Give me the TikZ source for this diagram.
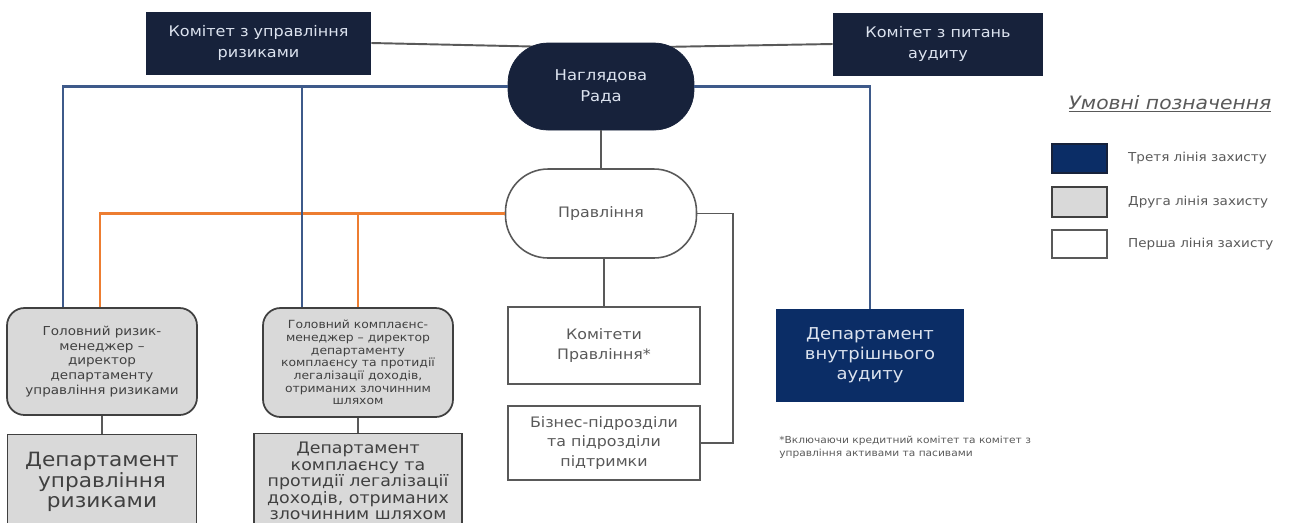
\documentclass[tikz,border=0pt]{standalone}
\usepackage{fontspec}
\setmainfont{DejaVu Sans}[FakeStretch=1.1]
\usetikzlibrary{positioning}
\definecolor{mnavy}{HTML}{17223B}
\definecolor{maudit}{HTML}{0B2D66}
\definecolor{mtxt}{HTML}{DCE3EF}
\definecolor{mblue}{HTML}{3E5A8A}
\definecolor{morange}{HTML}{ED7D31}
\definecolor{mgray}{HTML}{D9D9D9}
\definecolor{mdark}{HTML}{404040}
\definecolor{mline}{HTML}{595959}
\tikzstyle{council} = [rectangle, minimum height=1.26cm, text=mtxt, fill=mnavy, align=center, font=\fontsize{8.3}{11.5}\selectfont]
\tikzstyle{board} = [rectangle, rounded corners=0.8cm, minimum width=3.72cm, minimum height=1.74cm, text=mtxt, fill=mnavy, draw=mnavy, align=center, font=\fontsize{8.5}{12.2}\selectfont]
\tikzstyle{mgmt} = [rectangle, rounded corners=0.85cm, minimum width=3.82cm, minimum height=1.78cm, fill=white, draw=mline, line width=0.9pt, text=mline, font=\fontsize{8.2}{11}\selectfont]
\tikzstyle{first} = [rectangle, minimum width=3.84cm, fill=white, draw=mline, line width=1pt, text=mline, align=center, font=\fontsize{8.2}{11}\selectfont]
\tikzstyle{second} = [rectangle, rounded corners=0.35cm, minimum width=3.8cm, fill=mgray, draw=mdark, line width=1pt, text=mdark, align=center, inner sep=1pt]
\tikzstyle{secdept} = [rectangle, minimum height=1.9cm, fill=mgray, draw=mdark, line width=1pt, text=mdark, align=center]
\tikzstyle{third} = [rectangle, minimum width=3.76cm, minimum height=1.86cm, fill=maudit, text=mtxt, align=center, font=\fontsize{9.3}{11.3}\selectfont]
\tikzstyle{legbox} = [rectangle, minimum width=1.1cm, minimum height=0.58cm, draw=mdark, line width=1pt]
\tikzstyle{legtext} = [right=0.4cm, text=mline, font=\fontsize{7}{8}\selectfont, inner sep=0pt]
\tikzstyle{rline} = [line width=1.4pt, draw=mblue]
\tikzstyle{oline} = [line width=1.4pt, draw=morange]
\tikzstyle{gline} = [line width=1.1pt, draw=mline]

\begin{document}
\begin{tikzpicture}[x=0.02cm, y=-0.02cm]
  \useasboundingbox (0,0) rectangle (1295,522);
  \node (rkom) [council, minimum width=4.5cm] at (258.5,43) {Комітет з управління\\ризиками};
  \node (akom) [council, minimum width=4.2cm] at (938,44) {Комітет з питань\\аудиту};
  \coordinate (radatop) at (601,48);
  \draw [gline] (rkom.east) -- (radatop);
  \draw [gline] (akom.west) -- (radatop);
  \node (rada) [board] at (601,86.5) {Наглядова\\Рада};
  \node (pravl) [mgmt] at (601,213.5) {Правління};
  \draw [gline] (rada.south) -- (pravl.north);
  % second line of defence
  \node (grm) [second, minimum height=2.14cm, font=\fontsize{7}{8.3}\selectfont] at (102,361.5) {Головний ризик-\\менеджер --\\директор\\департаменту\\управління ризиками};
  \node (gkm) [second, minimum height=2.18cm, font=\fontsize{6.4}{7.2}\selectfont] at (358,362.5) {Головний комплаєнс-\\менеджер -- директор\\департаменту\\комплаєнсу та протидії\\легалізації доходів,\\отриманих злочинним\\шляхом};
  \node (dur) [secdept, minimum width=3.78cm, font=\fontsize{11.2}{11.8}\selectfont] at (102,482) {Департамент\\управління\\ризиками};
  \node (dkl) [secdept, minimum width=4.16cm, inner sep=1pt, font=\fontsize{9}{9.4}\selectfont] at (358,481) {Департамент\\комплаєнсу та\\протидії легалізації\\доходів, отриманих\\злочинним шляхом};
  \draw [gline] (grm.south) -- (dur.north);
  \draw [gline] (gkm.south) -- (dkl.north);
  % first line of defence
  \node (kp) [first, minimum height=1.54cm] at (604,345.5) {Комітети\\Правління*};
  \node (biz) [first, minimum height=1.48cm] at (604,443) {Бізнес-підрозділи\\та підрозділи\\підтримки};
  \draw [gline] (pravl.south -| kp.north) -- (kp.north);
  \draw [gline] (pravl.east) -- ++(0.72cm,0) |- (biz.east);
  % third line of defence
  \node (vaud) [third] at (870,355.5) {Департамент\\внутрішнього\\аудиту};
  \draw [oline] (pravl.west) -| ([xshift=-0.04cm]grm.north);
  \draw [oline] (pravl.west) -| (gkm.north);
  \draw [rline] (rada.west) -| ([xshift=-0.78cm]grm.north);
  \draw [rline] (rada.west) -| ([xshift=-1.12cm]gkm.north);
  \draw [rline] (rada.east) -| (vaud.north);
  \node (note) [anchor=north west, align=left, text=mline, inner sep=0pt, font=\fontsize{5.5}{7.5}\selectfont] at (779,436) {*Включаючи кредитний комітет та комітет з\\управління активами та пасивами};
  % legend
  \node (legtitle) [text=mline, font=\fontsize{10.5}{12}\selectfont\itshape] at (1170,104) {\underline{Умовні позначення}};
  \node (lgt) [legbox, fill=maudit, draw=mnavy] at (1079.5,158.5) {};
  \node (lgd) [legbox, fill=mgray, minimum height=0.6cm] at (1079.5,202) {};
  \node (lgp) [legbox, fill=white, draw=mline, minimum height=0.56cm] at (1079.5,244) {};
  \node (lgtl) [legtext, right=0.4cm of lgt] {Третя лінія захисту};
  \node (lgdl) [legtext, right=0.4cm of lgd] {Друга лінія захисту};
  \node (lgpl) [legtext, right=0.4cm of lgp] {Перша лінія захисту};
\end{tikzpicture}
\end{document}
